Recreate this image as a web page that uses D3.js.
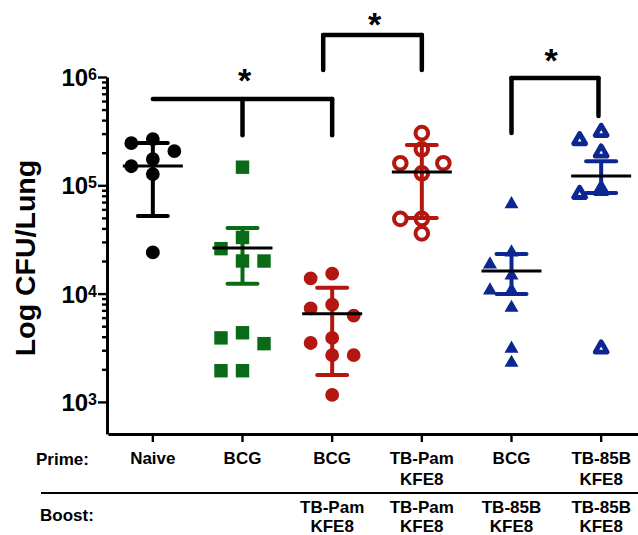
<!DOCTYPE html>
<html>
<head>
<meta charset="utf-8">
<script src="https://cdn.jsdelivr.net/npm/d3@7"></script>
<style>
  body { margin: 0; background: #fff; }
  text { font-family: "Liberation Sans", Arial, sans-serif; font-weight: bold; fill: #000; }
</style>
</head>
<body>
<svg class="chart" width="638" height="535"></svg>
<script>
// values (CFU per lung)
const naive = [267000, 245000, 207000, 174000, 150000, 127000, 24000]
const bcg = [147000, 33000, 26000, 20000, 20000, 4350, 3900, 3450, 1940, 1940]
const bcgPam = [15300, 13800, 7900, 7300, 6250, 3900, 3500, 2700, 2700, 1160]
const pamPam = [303000, 215000, 160000, 160000, 129000, 49000, 49000, 36000]
const bcg85b = [67000, 24000, 18600, 14700, 10700, 10700, 7400, 3100, 2300]
const tb85b = [310000, 260000, 200000, 90000, 83000, 3100]

const means = [151000, 26400, 6500, 133000, 16200, 122000]
const upper = [246000, 40400, 11300, 236000, 23200, 167000]
const lower = [52000, 12300, 1770, 49900, 9900, 85000]

const primeLabels = ["Naive", "BCG", "BCG", "TB-Pam\nKFE8", "BCG", "TB-85B\nKFE8"]
const boostLabels = ["", "", "TB-Pam\nKFE8", "TB-Pam\nKFE8", "TB-85B\nKFE8", "TB-85B\nKFE8"]
const decades = [1e3, 1e4, 1e5, 1e6]

// significance brackets: ends (group index), drops, bar level, drop level, star level
const brackets = [
    { from: 0, to: 2, drops: [1, 2], top: 627000, bottom: [290000, 290000], star: 727000, starAt: 1 },
    { from: 1.9, to: 3, drops: [1.9, 3], top: 2440000, bottom: [1160000, 1160000], star: 2390000, starAt: 2.45 },
    { from: 4, to: 4.97, drops: [4, 4.97], top: 980000, bottom: [304000, 437000], star: 1110000, starAt: 4.42 },
]

const groups = [naive, bcg, bcgPam, pamPam, bcg85b, tb85b]
const colors = ["#000000", "#0a6b16", "#b3170f", "#b3170f", "#0c2792", "#0c2792"]
const shapes = ["circle", "square", "circle", "circle", "triangle", "triangle"]
const open = [false, false, false, true, false, true]

const width = 638
const height = 535

const svg = d3.select("svg.chart")
    .attr("viewBox", [0, 0, width, height])

const x = d3.scaleBand()
    .domain(d3.range(groups.length))
    .range([108, 646])
    .padding(0)
const xc = i => {
    const k = Math.floor(i)
    return x(k) + x.bandwidth() / 2 + (i - k) * x.step()
}

const y = d3.scaleLog()
    .domain([Math.pow(10, 6 - 357 / 108.3), 1e6])
    .range([434, 77])

// y axis with minor ticks
const minor = []
decades.slice(0, 3).forEach(d => {
    for (let m = 2; m <= 9; m++) minor.push(d * m)
})
const yAxis = svg.append("g")
    .attr("transform", "translate(107,0)")
    .call(d3.axisLeft(y).tickValues(decades.concat(minor)).tickSize(5).tickSizeOuter(0).tickFormat(""))
yAxis.select(".domain").attr("stroke", "#000").attr("stroke-width", 3)
yAxis.selectAll(".tick line").attr("stroke", "#000").attr("stroke-width", 2.4)
    .filter(d => decades.includes(d)).attr("x2", -9)

decades.forEach(d => {
    const t = svg.append("text")
        .attr("x", 97)
        .attr("y", y(d) + 9)
        .attr("text-anchor", "end")
        .style("font-size", "24px")
    t.append("tspan").text("10")
    t.append("tspan").attr("dy", -6).style("font-size", "16px").text(Math.round(Math.log10(d)))
})

svg.append("text")
    .attr("transform", "translate(35,258) rotate(-90)")
    .attr("text-anchor", "middle")
    .style("font-size", "28.5px")
    .text("Log CFU/Lung")

// x axis
const xAxis = svg.append("g")
    .attr("transform", "translate(0,434)")
    .call(d3.axisBottom(x).tickSize(8).tickSizeOuter(0).tickFormat(""))
xAxis.select(".domain").attr("stroke", "#000").attr("stroke-width", 3)
xAxis.selectAll(".tick line").attr("stroke", "#000").attr("stroke-width", 2.4)

function multiLine(label, i, y0, lh) {
    const t = svg.append("text")
        .attr("text-anchor", "middle")
        .style("font-size", "17px")
    label.split("\n").forEach((s, j) => {
        t.append("tspan").attr("x", xc(i)).attr("y", y0 + j * lh).text(s)
    })
}
primeLabels.forEach((l, i) => multiLine(l, i, 464, 21))
boostLabels.forEach((l, i) => multiLine(l, i, 512.5, 19.5))

svg.append("text").attr("x", 36).attr("y", 465).style("font-size", "17px").text("Prime:")
svg.append("text").attr("x", 40).attr("y", 521).style("font-size", "17px").text("Boost:")
svg.append("line")
    .attr("x1", 41).attr("x2", width)
    .attr("y1", 493).attr("y2", 493)
    .attr("stroke", "#000").attr("stroke-width", 2)

// place points of a column side by side where they would overlap
function layout(values) {
    const step = x.step() * 0.24
    const placed = []
    values.map(v => ({ v, py: y(v) }))
        .sort((a, b) => a.py - b.py)
        .forEach(p => {
            for (const k of [0, -1, 1, -2, 2, -3, 3]) {
                const dx = k * step
                if (placed.every(q => Math.hypot(q.dx - dx, q.py - p.py) >= 14)) {
                    p.dx = dx
                    break
                }
            }
            placed.push(p)
        })
    return placed
}

const symbolOf = {
    circle: d3.symbol(d3.symbolCircle, 150),
    square: d3.symbol(d3.symbolSquare, 180),
    triangle: d3.symbol(d3.symbolTriangle, 85),
}
const openSymbolOf = {
    circle: d3.symbol(d3.symbolCircle, 125),
    triangle: d3.symbol(d3.symbolTriangle, 62),
}

groups.forEach((vals, i) => {
    const g = svg.append("g")
    const pts = layout(vals)
    g.selectAll("path.pt")
        .data(pts)
        .join("path")
        .attr("class", "pt")
        .attr("d", open[i] ? openSymbolOf[shapes[i]] : symbolOf[shapes[i]])
        .attr("transform", d => `translate(${xc(i) + d.dx},${d.py})`)
        .attr("fill", open[i] ? "#fff" : colors[i])
        .attr("stroke", colors[i])
        .attr("stroke-width", open[i] ? (shapes[i] === "triangle" ? 4.8 : 4) : 0)
        .attr("stroke-linejoin", "round")

    // error bar
    const cx = xc(i)
    g.append("line")
        .attr("x1", cx).attr("x2", cx)
        .attr("y1", y(upper[i])).attr("y2", y(lower[i]))
        .attr("stroke", colors[i]).attr("stroke-width", 4)
    ;[upper[i], lower[i]].forEach(v => {
        g.append("line")
            .attr("x1", cx - 15).attr("x2", cx + 15)
            .attr("y1", y(v)).attr("y2", y(v))
            .attr("stroke", colors[i]).attr("stroke-width", 4)
            .attr("stroke-linecap", "round")
    })
    g.append("line")
        .attr("x1", cx - 30).attr("x2", cx + 30)
        .attr("y1", y(means[i])).attr("y2", y(means[i]))
        .attr("stroke", "#000").attr("stroke-width", 3)
})

// brackets
brackets.forEach(b => {
    const g = svg.append("g")
        .attr("fill", "none").attr("stroke", "#000").attr("stroke-width", 4.5)
        .attr("stroke-linecap", "round")
    g.append("line")
        .attr("x1", xc(b.from)).attr("x2", xc(b.to))
        .attr("y1", y(b.top)).attr("y2", y(b.top))
    b.drops.forEach((d, j) => {
        g.append("line")
            .attr("x1", xc(d)).attr("x2", xc(d))
            .attr("y1", y(b.top)).attr("y2", y(b.bottom[j]))
    })
    svg.append("text")
        .attr("x", xc(b.starAt) + 2)
        .attr("y", y(b.star))
        .attr("text-anchor", "middle")
        .style("font-size", "34px")
        .text("*")
})
</script>
</body>
</html>
